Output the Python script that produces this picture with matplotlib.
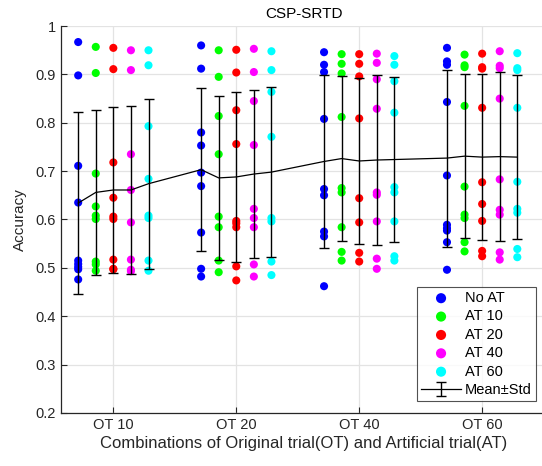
import matplotlib.pyplot as plt

plt.rcParams['font.family'] = ['Liberation Sans', 'DejaVu Sans']

groups = ["OT 10", "OT 20", "OT 40", "OT 60"]
at_names = ["No AT", "AT 10", "AT 20", "AT 40", "AT 60"]
at_colors = ["#0000ff", "#00ff00", "#ff0000", "#ff00ff", "#00ffff"]

# accuracy of each subject, one list per AT level (No AT, AT 10, AT 20, AT 40, AT 60)
ot10 = [
    [0.967, 0.898, 0.711, 0.635, 0.515, 0.508, 0.502, 0.497, 0.476],
    [0.957, 0.903, 0.695, 0.627, 0.608, 0.601, 0.513, 0.507, 0.494],
    [0.955, 0.911, 0.718, 0.645, 0.606, 0.601, 0.517, 0.498, 0.497],
    [0.950, 0.909, 0.735, 0.661, 0.594, 0.517, 0.496, 0.493],
    [0.950, 0.919, 0.793, 0.684, 0.608, 0.603, 0.515, 0.494],
]
ot20 = [
    [0.960, 0.912, 0.780, 0.753, 0.697, 0.669, 0.573, 0.498, 0.482],
    [0.950, 0.895, 0.814, 0.735, 0.606, 0.584, 0.515, 0.491],
    [0.951, 0.904, 0.826, 0.756, 0.597, 0.592, 0.584, 0.503, 0.474],
    [0.953, 0.905, 0.845, 0.754, 0.622, 0.603, 0.584, 0.507, 0.482],
    [0.948, 0.909, 0.864, 0.771, 0.603, 0.596, 0.513, 0.485],
]
ot40 = [
    [0.946, 0.920, 0.905, 0.808, 0.663, 0.650, 0.575, 0.565, 0.462],
    [0.942, 0.922, 0.902, 0.812, 0.665, 0.656, 0.584, 0.533, 0.515],
    [0.942, 0.922, 0.896, 0.809, 0.644, 0.594, 0.531, 0.513],
    [0.943, 0.924, 0.890, 0.829, 0.656, 0.651, 0.596, 0.519, 0.498],
    [0.938, 0.920, 0.886, 0.821, 0.667, 0.656, 0.596, 0.524, 0.515],
]
ot60 = [
    [0.955, 0.927, 0.920, 0.843, 0.691, 0.589, 0.582, 0.577, 0.553, 0.496],
    [0.941, 0.919, 0.915, 0.835, 0.668, 0.610, 0.603, 0.553, 0.534],
    [0.943, 0.915, 0.912, 0.831, 0.677, 0.632, 0.597, 0.535, 0.524],
    [0.948, 0.918, 0.913, 0.850, 0.683, 0.620, 0.610, 0.532, 0.517],
    [0.944, 0.913, 0.909, 0.831, 0.678, 0.622, 0.614, 0.539, 0.522],
]

# mean and std for the 20 combinations, in plotting order
mean_acc = [0.634, 0.656, 0.661, 0.661, 0.674,
            0.703, 0.686, 0.688, 0.694, 0.698,
            0.720, 0.726, 0.721, 0.723, 0.724,
            0.727, 0.731, 0.729, 0.730, 0.729]
std_acc = [0.188, 0.170, 0.172, 0.173, 0.176,
           0.169, 0.169, 0.176, 0.174, 0.176,
           0.178, 0.171, 0.172, 0.175, 0.171,
           0.183, 0.170, 0.171, 0.175, 0.169]

all_data = [ot10, ot20, ot40, ot60]
step = 0.143

fig = plt.figure(figsize=(5.42, 4.66), dpi=100)
ax = fig.add_axes([0.1125, 0.114, 0.895, 0.830])

xs = []
for g, group in enumerate(all_data):
    for k, vals in enumerate(group):
        x = g + 1 + (k - 2) * step
        xs.append(x)
        ax.scatter([x] * len(vals), vals, s=34, color=at_colors[k],
                   edgecolors='none', zorder=3, label=at_names[k] if g == 0 else None)

eb = ax.errorbar(xs, mean_acc, yerr=std_acc, color='black', lw=0.9,
                 elinewidth=1.0, capsize=3.8, capthick=1.0, zorder=4, label='Mean±Std')

ax.set_xlim(0.574, 4.52)
ax.set_ylim(0.2, 1.0)
ax.set_xticks([1, 2, 3, 4])
ax.set_xticklabels(groups)
yt = [0.2, 0.3, 0.4, 0.5, 0.6, 0.7, 0.8, 0.9, 1.0]
ax.set_yticks(yt)
ax.set_yticklabels(["0.2", "0.3", "0.4", "0.5", "0.6", "0.7", "0.8", "0.9", "1"])

ax.grid(True, color='#e3e3e3', lw=0.9)
ax.set_axisbelow(True)
for side in ['top', 'right']:
    ax.spines[side].set_visible(False)
for side in ['left', 'bottom']:
    ax.spines[side].set_color('#262626')
    ax.spines[side].set_linewidth(0.9)
ax.tick_params(direction='in', length=4, colors='#262626', labelsize=10.5, width=0.8)

ax.set_title("CSP-SRTD", fontsize=11, color='#000000', pad=6)
ax.set_xlabel("Combinations of Original trial(OT) and Artificial trial(AT)",
              fontsize=12, color='#262626', labelpad=3)
ax.set_ylabel("Accuracy", fontsize=11, color='#262626', labelpad=6)

handles, labels = ax.get_legend_handles_labels()
leg = ax.legend(handles, labels, loc='lower right', bbox_to_anchor=(0.98, 0.03),
                fontsize=10.5, frameon=True, fancybox=False, edgecolor='#262626',
                handlelength=2.7, handletextpad=0.3, labelspacing=0.3,
                borderpad=0.3, borderaxespad=0.0, markerscale=1.25)
leg.get_frame().set_linewidth(0.8)

fig.savefig("out.png", dpi=100)
